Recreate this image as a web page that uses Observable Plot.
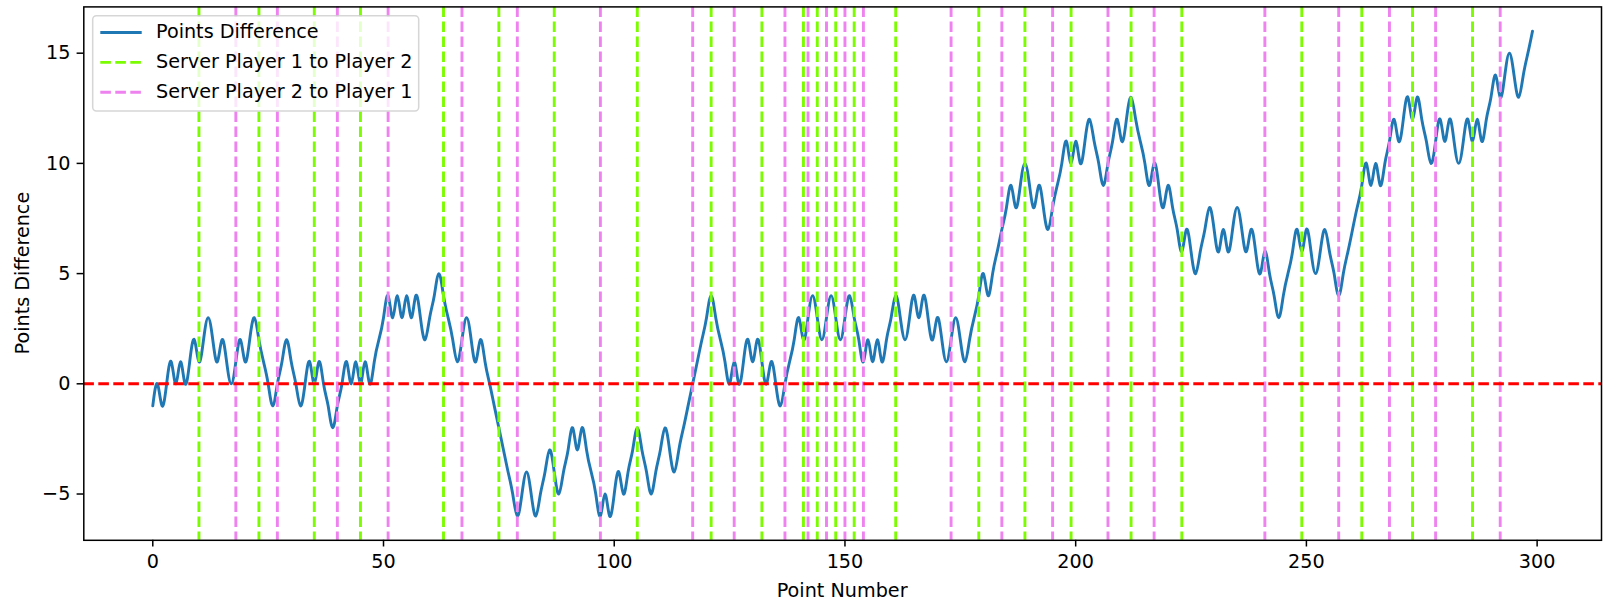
<!DOCTYPE html>
<html>
<head>
<meta charset="utf-8">
<script src="https://cdn.jsdelivr.net/npm/d3@7"></script>
<script src="https://cdn.jsdelivr.net/npm/@observablehq/plot@0.6"></script>
<style>
  html, body { margin: 0; padding: 0; background: #ffffff; }
  #chart { width: 1614px; height: 609px; }
  svg { font-family: "DejaVu Sans", sans-serif; }
</style>
</head>
<body>
<div id="chart"></div>
<script>
// ---- data ----
const xTicks = [0, 50, 100, 150, 200, 250, 300];
const yTicks = [-5, 0, 5, 10, 15];
const xDomain = [-14.95, 313.95];
const yDomain = [-7.1, 17.1];

// points difference for point numbers 0..299
const pointsDifference = [
  -1, 0, -1, 0, 1, 0, 1, 0, 1, 2,
  1, 2, 3, 2, 1, 2, 1, 0, 1, 2,
  1, 2, 3, 2, 1, 0, -1, 0, 1, 2,
  1, 0, -1, 0, 1, 0, 1, 0, -1, -2,
  -1, 0, 1, 0, 1, 0, 1, 0, 1, 2,
  3, 4, 3, 4, 3, 4, 3, 4, 3, 2,
  3, 4, 5, 4, 3, 2, 1, 2, 3, 2,
  1, 2, 1, 0, -1, -2, -3, -4, -5, -6,
  -5, -4, -5, -6, -5, -4, -3, -4, -5, -4,
  -3, -2, -3, -2, -3, -4, -5, -6, -5, -6,
  -5, -4, -5, -4, -3, -2, -3, -4, -5, -4,
  -3, -2, -3, -4, -3, -2, -1, 0, 1, 2,
  3, 4, 3, 2, 1, 0, 1, 0, 1, 2,
  1, 2, 1, 0, 1, 0, -1, 0, 1, 2,
  3, 2, 3, 4, 3, 2, 3, 4, 3, 2,
  3, 4, 3, 2, 1, 2, 1, 2, 1, 2,
  3, 4, 3, 2, 3, 4, 3, 4, 3, 2,
  3, 2, 1, 2, 3, 2, 1, 2, 3, 4,
  5, 4, 5, 6, 7, 8, 9, 8, 9, 10,
  9, 8, 9, 8, 7, 8, 9, 10, 11, 10,
  11, 10, 11, 12, 11, 10, 9, 10, 11, 12,
  11, 12, 13, 12, 11, 10, 9, 10, 9, 8,
  9, 8, 7, 6, 7, 6, 5, 6, 7, 8,
  7, 6, 7, 6, 7, 8, 7, 6, 7, 6,
  5, 6, 5, 4, 3, 4, 5, 6, 7, 6,
  7, 6, 5, 6, 7, 6, 5, 4, 5, 6,
  7, 8, 9, 10, 9, 10, 9, 10, 11, 12,
  11, 12, 13, 12, 13, 12, 11, 10, 11, 12,
  11, 12, 11, 10, 11, 12, 11, 12, 11, 12,
  13, 14, 13, 14, 15, 14, 13, 14, 15, 16
];

// point numbers where the server changes
const serverP1toP2 = [10, 23, 35, 45, 63, 75, 87, 105, 121, 132, 141, 144, 148, 152, 161, 179, 189, 199, 212, 223, 249, 262, 273, 286];
const serverP2toP1 = [18, 27, 40, 51, 67, 79, 97, 117, 126, 137, 142, 146, 150, 154, 173, 184, 195, 207, 217, 241, 257, 268, 278, 292];

const legendLabels = ["Points Difference", "Server Player 1 to Player 2", "Server Player 2 to Player 1"];
const xLabel = "Point Number";
const yLabel = "Points Difference";

// ---- styles ----
const BLUE = "#1f77b4", GREEN = "#7CFC00", PINK = "#EE82EE", RED = "#ff0000";
const LW = 2.9, DASH = "10.6,4.4", FONT = 19.2;

const table = pointsDifference.map((v, i) => ({point: i, diff: v}));

const W = 1614, H = 609;
const mL = 83.3, mR = 13, mT = 6.4, mB = 69.2;

const chart = Plot.plot({
  width: W, height: H,
  marginLeft: mL, marginRight: mR, marginTop: mT, marginBottom: mB,
  style: {fontFamily: "DejaVu Sans", fontSize: FONT + "px", color: "black", background: "white", overflow: "visible"},
  x: {domain: xDomain},
  y: {domain: yDomain},
  marks: [
    Plot.lineY(table, {x: "point", y: "diff", curve: "natural", stroke: BLUE, strokeWidth: LW}),
    Plot.ruleX(serverP1toP2, {x: d => d, stroke: GREEN, strokeWidth: LW, strokeDasharray: DASH}),
    Plot.ruleX(serverP2toP1, {x: d => d, stroke: PINK, strokeWidth: LW, strokeDasharray: DASH}),
    Plot.ruleY([0], {stroke: RED, strokeWidth: LW, strokeDasharray: DASH}),
    Plot.frame({stroke: "black", strokeWidth: 1.5}),
    Plot.axisX({ticks: xTicks, tickSize: 6.7, tickPadding: 7.5, strokeWidth: 1.5, fontSize: FONT, label: null}),
    Plot.axisY({ticks: yTicks, tickSize: 6.7, tickPadding: 6.7, strokeWidth: 1.5, fontSize: FONT, label: null})
  ]
});
document.getElementById("chart").appendChild(chart);

// ---- legend (inside the axes, upper left) and axis titles ----
const svg = d3.select(chart);
const lg = svg.append("g").attr("font-family", "DejaVu Sans").attr("font-size", FONT).attr("text-anchor", "start");
lg.append("rect")
  .attr("x", 92.7).attr("y", 15.7).attr("width", 326).attr("height", 95.3)
  .attr("rx", 3.8).attr("ry", 3.8)
  .attr("fill", "white").attr("fill-opacity", 0.8)
  .attr("stroke", "#cccccc").attr("stroke-opacity", 0.8).attr("stroke-width", 1.5);
const legendStyles = [
  {stroke: BLUE, dash: null},
  {stroke: GREEN, dash: DASH},
  {stroke: PINK, dash: DASH}
];
legendLabels.forEach((lab, i) => {
  const cy = 32.5 + i * 29.9;
  const l = lg.append("line")
    .attr("x1", 100.3).attr("x2", 141.7).attr("y1", cy).attr("y2", cy)
    .attr("stroke", legendStyles[i].stroke).attr("stroke-width", LW);
  if (legendStyles[i].dash) l.attr("stroke-dasharray", legendStyles[i].dash);
  lg.append("text").attr("x", 156).attr("y", cy + 5.9)
    .attr("text-anchor", "start").attr("fill", "black").text(lab);
});

svg.append("text")
  .attr("x", mL + (W - mL - mR) / 2).attr("y", 597)
  .attr("text-anchor", "middle").attr("font-size", FONT).attr("fill", "black")
  .attr("font-family", "DejaVu Sans")
  .text(xLabel);
svg.append("text")
  .attr("transform", `translate(29,${mT + (H - mT - mB) / 2}) rotate(-90)`)
  .attr("text-anchor", "middle").attr("font-size", FONT).attr("fill", "black")
  .attr("font-family", "DejaVu Sans")
  .text(yLabel);
</script>
</body>
</html>
